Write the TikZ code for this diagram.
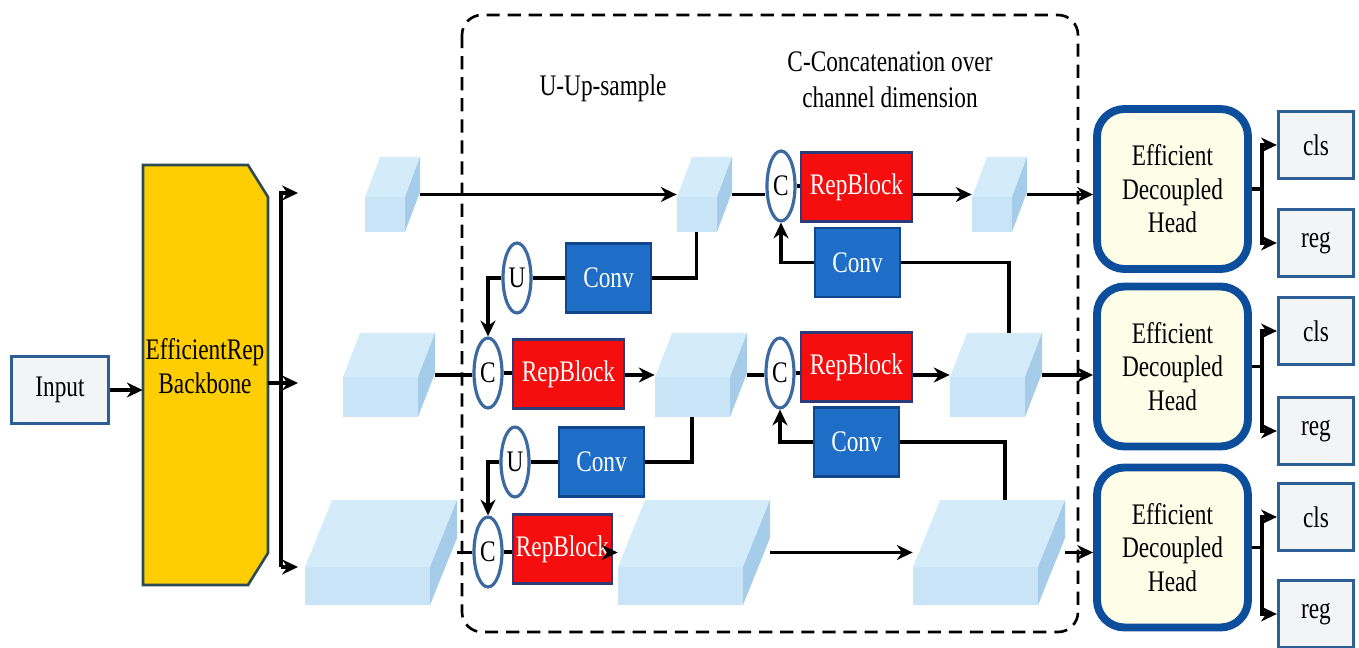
\documentclass[tikz,border=0pt]{standalone}
\usepackage{fontspec}
\setmainfont{Liberation Serif}[FakeStretch=0.78]
\usetikzlibrary{arrows.meta}
\usetikzlibrary{shapes.geometric}
\usetikzlibrary{fit}

\definecolor{backgold}{RGB}{255,206,0}
\definecolor{backedge}{RGB}{45,75,85}
\definecolor{repred}{RGB}{246,14,14}
\definecolor{repedge}{RGB}{45,60,120}
\definecolor{convblue}{RGB}{30,110,200}
\definecolor{convedge}{RGB}{15,70,140}
\definecolor{ringblue}{RGB}{60,105,160}
\definecolor{headblue}{RGB}{12,78,155}
\definecolor{headfill}{RGB}{253,253,232}
\definecolor{boxblue}{RGB}{45,95,150}
\definecolor{boxfill}{RGB}{243,244,246}
\definecolor{cubefront}{RGB}{200,228,246}
\definecolor{cubetop}{RGB}{212,236,250}
\definecolor{cubeside}{RGB}{165,205,234}

\tikzset{
  txt/.style={font=\fontsize{17}{19}\selectfont},
  link/.style={line width=2pt},
  arrow/.style={link,-{Stealth[length=9pt,width=8.5pt]}},
  repblock/.style={txt,rectangle,draw=repedge,line width=1.4pt,fill=repred,text=white,minimum width=2.22cm,minimum height=1.38cm,inner sep=0},
  convblock/.style={txt,rectangle,draw=convedge,line width=1.4pt,fill=convblue,text=white,minimum width=1.7cm,minimum height=1.38cm,inner sep=0},
  ring/.style={txt,ellipse,draw=ringblue,line width=1.8pt,fill=white,minimum width=0.56cm,minimum height=1.4cm,inner sep=0},
  headbox/.style={txt,rectangle,rounded corners=0.55cm,draw=headblue,line width=4.5pt,fill=headfill,minimum width=3.02cm,minimum height=3.2cm,align=center,inner sep=0},
  outbox/.style={txt,rectangle,draw=boxblue,line width=1.9pt,fill=boxfill,minimum width=1.5cm,minimum height=1.34cm,inner sep=0}
}

% feature map slab: name, front top-left x, y, width, height, depth x, depth y
\newcommand{\featmap}[7]{
  \fill[cubefront] (#2,#3) rectangle ++(#4,#5);
  \fill[cubetop] (#2,#3) -- ++(#6,-#7) -- ++(#4,0) -- ++(-#6,#7) -- cycle;
  \fill[cubeside] (#2+#4,#3) -- ++(#6,-#7) -- ++(0,#5) -- ++(-#6,#7) -- cycle;
  \node[fit={(#2,#3-#7) (#2+#4+#6,#3+#5)},inner sep=0] (#1) {};
}

\begin{document}
\begin{tikzpicture}[x=0.02cm,y=-0.02cm]
\useasboundingbox (0,0) rectangle (1359,648);

% neck
\draw[line width=1.5pt,dash pattern=on 7.5pt off 4.5pt,rounded corners=0.4cm] (462,15) rectangle (1078,632);
\node[txt] (uplabel) at (603,88) {U-Up-sample};
\node[txt,align=center,font=\fontsize{17}{20.5}\selectfont] (catlabel) at (890,80) {C-Concatenation over\\channel dimension};

% input and backbone
\node[outbox,minimum width=1.94cm] (input) at (60,390) {Input};
\filldraw[fill=backgold,draw=backedge,line width=1.5pt] (143,165) -- (248,165) -- (268,197) -- (268,553) -- (248,585) -- (143,585) -- cycle;
\node[fit={(143,165) (268,585)},inner sep=0] (backbone) {};
\node[txt,align=center] (backbonetext) at (205,366) {EfficientRep\\Backbone};

\coordinate (fork) at (281,383);
\coordinate (tap1) at (298,193);
\coordinate (tap2) at (298,383);
\coordinate (tap3) at (298,567);
\draw[arrow] (input.east) -- (input.east -| backbone.west);
\draw[arrow] (backbone.east |- tap2) -- (tap2);
\draw[arrow] (fork |- tap3) |- (tap1);
\draw[arrow] (fork |- tap3) -- (tap3);

% feature maps
\featmap{p5a}{365}{197}{40}{35}{15}{40}
\featmap{p5b}{677}{197}{40}{35}{15}{40}
\featmap{p5c}{972}{197}{40}{35}{15}{40}
\featmap{p4a}{343}{377}{75}{40}{17}{44}
\featmap{p4b}{655}{377}{75}{40}{17}{44}
\featmap{p4c}{950}{377}{75}{40}{17}{44}
\featmap{p3a}{305}{567}{125}{38}{27}{67}
\featmap{p3b}{618}{567}{125}{38}{27}{67}
\featmap{p3c}{913}{567}{125}{38}{27}{67}

% blocks
\node[ring] (up1) at (517,278) {U};
\node[convblock] (conv1) at (608.5,278) {Conv};
\node[ring] (cat2) at (488,373) {C};
\node[repblock] (rep2) at (568.5,374) {RepBlock};
\node[ring] (up2) at (515,462) {U};
\node[convblock] (conv2) at (601.5,462) {Conv};
\node[ring] (cat3) at (488,552) {C};
\node[repblock,minimum width=1.98cm] (rep3) at (562.5,549) {RepBlock};

\node[ring] (cat1) at (781,186) {C};
\node[repblock] (rep1) at (856.5,187) {RepBlock};
\node[convblock] (conv3) at (857.5,262.5) {Conv};
\node[ring] (cat4) at (780,373) {C};
\node[repblock] (rep4) at (856.5,367) {RepBlock};
\node[convblock] (conv4) at (856.5,442) {Conv};

% top-down path
\draw[arrow] (p5a.east) -- (p5b.west);
\draw[link] ([xshift=-0.16cm]p5b.south) |- (conv1.east);
\draw[link] (up1.east) -- (conv1.west);
\draw[arrow] (up1.west) -| (cat2.north);
\draw[link] (p4a.east) -- (p4a.east -| cat2.west);
\draw[link] (cat2.east) -- (cat2.east -| rep2.west);
\draw[arrow] (p4b.west -| rep2.east) -- (p4b.west);
\draw[link] ([xshift=-0.18cm]p4b.south) |- (conv2.east);
\draw[link] (up2.east) -- (conv2.west);
\draw[arrow] (up2.west) -| (cat3.north);
\draw[link] (p3a.east) -- (p3a.east -| cat3.west);
\draw[link] (cat3.east) -- (cat3.east -| rep3.west);
\draw[arrow] (p3b.west -| rep3.east) -- (p3b.west);

% bottom-up path
\draw[arrow] (p3b.east) -- (p3c.west);
\draw[link] ([xshift=0.32cm]p3c.north) |- (conv4.east);
\draw[arrow] (conv4.west) -| (cat4.south);
\draw[link] (p4b.east) -- (p4b.east -| cat4.west);
\draw[link] (cat4.east) -- (cat4.east -| rep4.west);
\draw[arrow] (p4c.west -| rep4.east) -- (p4c.west);
\draw[link] ([xshift=0.26cm]p4c.north) |- (conv3.east);
\draw[arrow] (conv3.west) -| (cat1.south);
\draw[link] (p5b.east) -- (p5b.east -| cat1.west);
\draw[link] (cat1.east) -- (cat1.east -| rep1.west);
\draw[arrow] (p5c.west -| rep1.east) -- (p5c.west);

% heads
\node[headbox] (head1) at (1172.5,189) {Efficient\\Decoupled\\Head};
\node[headbox] (head2) at (1172.5,366.5) {Efficient\\Decoupled\\Head};
\node[headbox] (head3) at (1172.5,547.5) {Efficient\\Decoupled\\Head};
\node[outbox] (cls1) at (1316,145) {cls};
\node[outbox] (reg1) at (1316,243) {reg};
\node[outbox] (cls2) at (1316,331) {cls};
\node[outbox] (reg2) at (1316,431) {reg};
\node[outbox] (cls3) at (1316,517) {cls};
\node[outbox] (reg3) at (1316,614) {reg};

\draw[arrow] (p5c.east) -- (p5c.east -| head1.west);
\draw[arrow] (p4c.east) -- (p4c.east -| head2.west);
\draw[arrow] (p3c.east) -- (p3c.east -| head3.west);

\draw[arrow] (head1.east) -- ++(0.2cm,0pt) |- (cls1.west);
\draw[arrow] (head1.east) -- ++(0.2cm,0pt) |- (reg1.west);
\draw[arrow] (head2.east) -- ++(0.2cm,0pt) |- (cls2.west);
\draw[arrow] (head2.east) -- ++(0.2cm,0pt) |- (reg2.west);
\draw[arrow] (head3.east) -- ++(0.2cm,0pt) |- (cls3.west);
\draw[arrow] (head3.east) -- ++(0.2cm,0pt) |- (reg3.west);

\end{tikzpicture}
\end{document}
